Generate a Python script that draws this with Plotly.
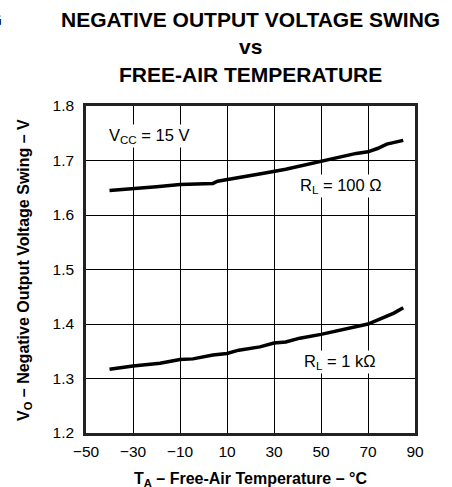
import plotly.graph_objects as go

temp_100 = [-40, -30, -20, -10, -5, 4, 6, 18, 25, 35, 41, 50, 58, 65, 70, 74, 78, 85]
vo_100 = [1.645, 1.648, 1.652, 1.656, 1.657, 1.658, 1.662, 1.670, 1.676, 1.684, 1.690, 1.698, 1.707, 1.713, 1.716, 1.722, 1.730, 1.737]

temp_1k = [-40, -30, -18.5, -10, -4.5, 4, 10, 15, 24, 30, 35, 41, 50, 58, 64, 70, 75, 81, 85]
vo_1k = [1.317, 1.323, 1.328, 1.335, 1.336, 1.343, 1.346, 1.352, 1.358, 1.365, 1.367, 1.374, 1.381, 1.389, 1.395, 1.400, 1.409, 1.420, 1.430]

x_ticks = [-50, -30, -10, 10, 30, 50, 70, 90]
x_tick_labels = ["\u221250", "\u221230", "\u221210", "10", "30", "50", "70", "90"]
y_ticks = [1.2, 1.3, 1.4, 1.5, 1.6, 1.7, 1.8]
y_tick_labels = ["1.2", "1.3", "1.4", "1.5", "1.6", "1.7", "1.8"]

title_lines = ["NEGATIVE OUTPUT VOLTAGE SWING", "vs", "FREE-AIR TEMPERATURE"]
x_title = "T<sub>A</sub> \u2013 Free-Air Temperature \u2013 \u00b0C"
y_title = "V<sub>O</sub> \u2013 Negative Output Voltage Swing \u2013 V"

FONT = "Liberation Sans, Arial, sans-serif"
W, H = 452, 487
L, R, T, B = 86, 37, 106, 54
PW, PH = W - L - R, H - T - B


def px(xp):
    return (xp - L) / PW


def py(yp):
    return (H - B - yp) / PH


fig = go.Figure()
for xs, ys in [(temp_100, vo_100), (temp_1k, vo_1k)]:
    fig.add_trace(go.Scatter(x=xs, y=ys, mode="lines",
                             line=dict(color="black", width=3.5),
                             showlegend=False, hoverinfo="skip"))

fig.update_layout(
    width=W, height=H,
    margin=dict(l=L, r=R, t=T, b=B, autoexpand=False),
    paper_bgcolor="white", plot_bgcolor="white",
    font=dict(family=FONT, color="black", size=15),
    showlegend=False,
)

common = dict(showgrid=True, gridcolor="black", gridwidth=1,
              showline=True, linecolor="#222", linewidth=2.5, mirror=True,
              ticks="", zeroline=False, automargin=False,
              tickfont=dict(size=15.5))
fig.update_xaxes(range=[-50, 90], tickmode="array", tickvals=x_ticks,
                 ticktext=x_tick_labels, ticklabelstandoff=3, **common)
fig.update_yaxes(range=[1.2, 1.8], tickmode="array", tickvals=y_ticks,
                 ticktext=y_tick_labels, ticklabelstandoff=6, **common)

paper = dict(xref="paper", yref="paper", showarrow=False)
for line, yc in zip(title_lines, [20, 47, 74]):
    fig.add_annotation(x=px(250), y=py(yc), xanchor="center", yanchor="middle",
                       text="<b>" + line + "</b>",
                       font=dict(size=21, family=FONT), **paper)
fig.add_annotation(x=px(250), y=py(479), xanchor="center", yanchor="middle",
                   text="<b>" + x_title + "</b>", font=dict(size=16, family=FONT),
                   **paper)
fig.add_annotation(x=px(24), y=py(270), xanchor="center", yanchor="middle",
                   textangle=-90, text="<b>" + y_title + "</b>",
                   font=dict(size=16, family=FONT), **paper)
fig.add_annotation(x=px(4), y=py(20), xanchor="right", yanchor="middle",
                   text="<b>SWING</b>", font=dict(size=21, family=FONT), **paper)

ann = dict(showarrow=False, font=dict(size=16.5, family=FONT), bgcolor="white",
           borderpad=1)
fig.add_annotation(x=-41, y=1.745, xanchor="left", yanchor="middle",
                   text="V<sub>CC</sub> = 15 V", **ann)
fig.add_annotation(x=40, y=1.653, xanchor="left", yanchor="middle",
                   text="R<sub>L</sub> = 100 \u03a9", **ann)
fig.add_annotation(x=42, y=1.330, xanchor="left", yanchor="middle",
                   text="R<sub>L</sub> = 1 k\u03a9", **ann)

fig.write_html("out.html",
               config={"displayModeBar": False},
               post_script="document.body.style.margin='0px';"
                           "document.body.style.overflow='hidden';")
